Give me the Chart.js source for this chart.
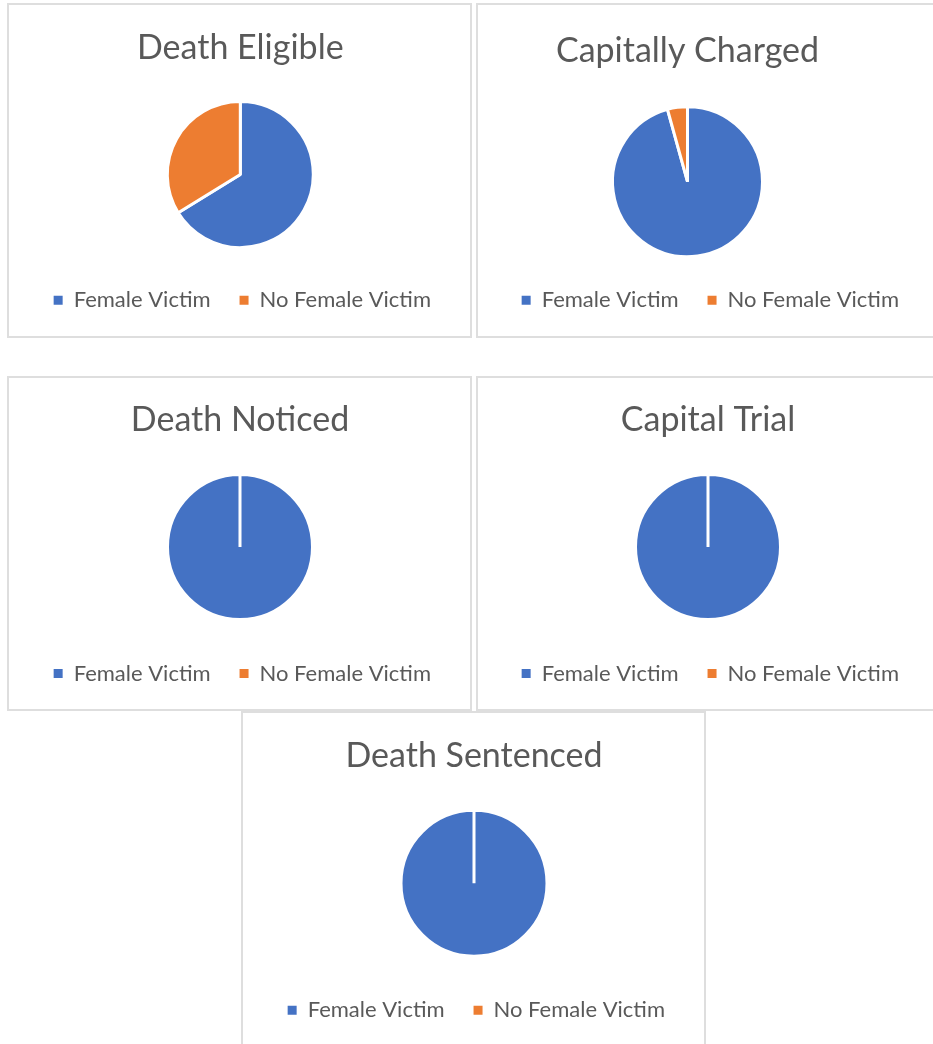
<!DOCTYPE html>
<html>
<head>
<meta charset="utf-8">
<script src="https://cdn.jsdelivr.net/npm/chart.js@4.4.1/dist/chart.umd.min.js"></script>
<style>
  html, body { margin: 0; padding: 0; background: #ffffff; overflow: hidden; }
  body { width: 933px; height: 1044px; position: relative; }
  .panel { position: absolute; box-sizing: border-box; border: 2px solid #dedede; background: #fff; }
  canvas.pie { position: absolute; }
</style>
</head>
<body>
<script>
// ---- data ----
const categories = ['Female Victim', 'No Female Victim'];
const chartTitles = ['Death Eligible', 'Capitally Charged', 'Death Noticed', 'Capital Trial', 'Death Sentenced'];
const deathEligible = [66.2, 33.8];
const capitallyCharged = [95.7, 4.3];
const deathNoticed = [100, 0];
const capitalTrial = [100, 0];
const deathSentenced = [100, 0];
const seriesColors = ['#4472C4', '#ED7D31'];

// ---- layout (panel placement & per-chart paddings) ----
const W = 465, H = 335;
const panels = [
  { data: deathEligible,    x: 7,   y: 3,   cx: 0,   cw: W,   r: 73,   pad: { left: 13.6, right: 12, top: 0, bottom: 16.8 }, tp: 24.7, tb: 20.3 },
  { data: capitallyCharged, x: 476, y: 3,   cx: -40, cw: 505, r: 75,   pad: { left: 11,   right: 13, top: 0, bottom: 16.8 }, tp: 28.1, tb: 31.3 },
  { data: deathNoticed,     x: 7,   y: 376, cx: 0,   cw: W,   r: 72.5, pad: { left: 13,   right: 12, top: 0, bottom: 16.5 }, tp: 23.4, tb: 20.3 },
  { data: capitalTrial,     x: 476, y: 376, cx: 0,   cw: W,   r: 72.5, pad: { left: 12,   right: 13, top: 0, bottom: 16.5 }, tp: 23.4, tb: 20.3 },
  { data: deathSentenced,   x: 241, y: 711, cx: 0,   cw: W,   r: 73,   pad: { left: 13,   right: 12, top: 0, bottom: 14.8 }, tp: 25.1, tb: 19.5 }
];
const textColor = '#595959';

const defaultLabels = Chart.overrides.pie.plugins.legend.labels.generateLabels;

panels.forEach((p, i) => {
  const div = document.createElement('div');
  div.className = 'panel';
  div.style.left = p.x + 'px';
  div.style.top = p.y + 'px';
  div.style.width = W + 'px';
  div.style.height = H + 'px';
  document.body.appendChild(div);
});

panels.forEach((p, i) => {
  const cv = document.createElement('canvas');
  cv.className = 'pie';
  cv.width = p.cw; cv.height = H;
  cv.style.left = (p.x + p.cx) + 'px';
  cv.style.top = p.y + 'px';
  cv.style.width = p.cw + 'px';
  cv.style.height = H + 'px';
  document.body.appendChild(cv);

  new Chart(cv.getContext('2d'), {
    type: 'pie',
    data: {
      labels: categories,
      datasets: [{
        data: p.data,
        backgroundColor: seriesColors,
        borderColor: '#ffffff',
        borderWidth: 3,
        radius: p.r
      }]
    },
    options: {
      responsive: false,
      animation: false,
      devicePixelRatio: 1,
      layout: { padding: p.pad },
      plugins: {
        tooltip: { enabled: false },
        title: {
          display: true,
          text: chartTitles[i],
          color: textColor,
          font: { family: 'Lato', size: 34, weight: 'normal', lineHeight: 1.2 },
          padding: { top: p.tp, bottom: p.tb }
        },
        legend: {
          display: true,
          position: 'bottom',
          align: 'end',
          labels: {
            color: textColor,
            font: { family: 'Lato', size: 22, weight: 'normal' },
            boxWidth: 9,
            boxHeight: 9,
            padding: 29,
            generateLabels: (chart) => defaultLabels(chart).map(l => Object.assign(l, { lineWidth: 0, hidden: false }))
          }
        }
      }
    }
  });
});
</script>
</body>
</html>
